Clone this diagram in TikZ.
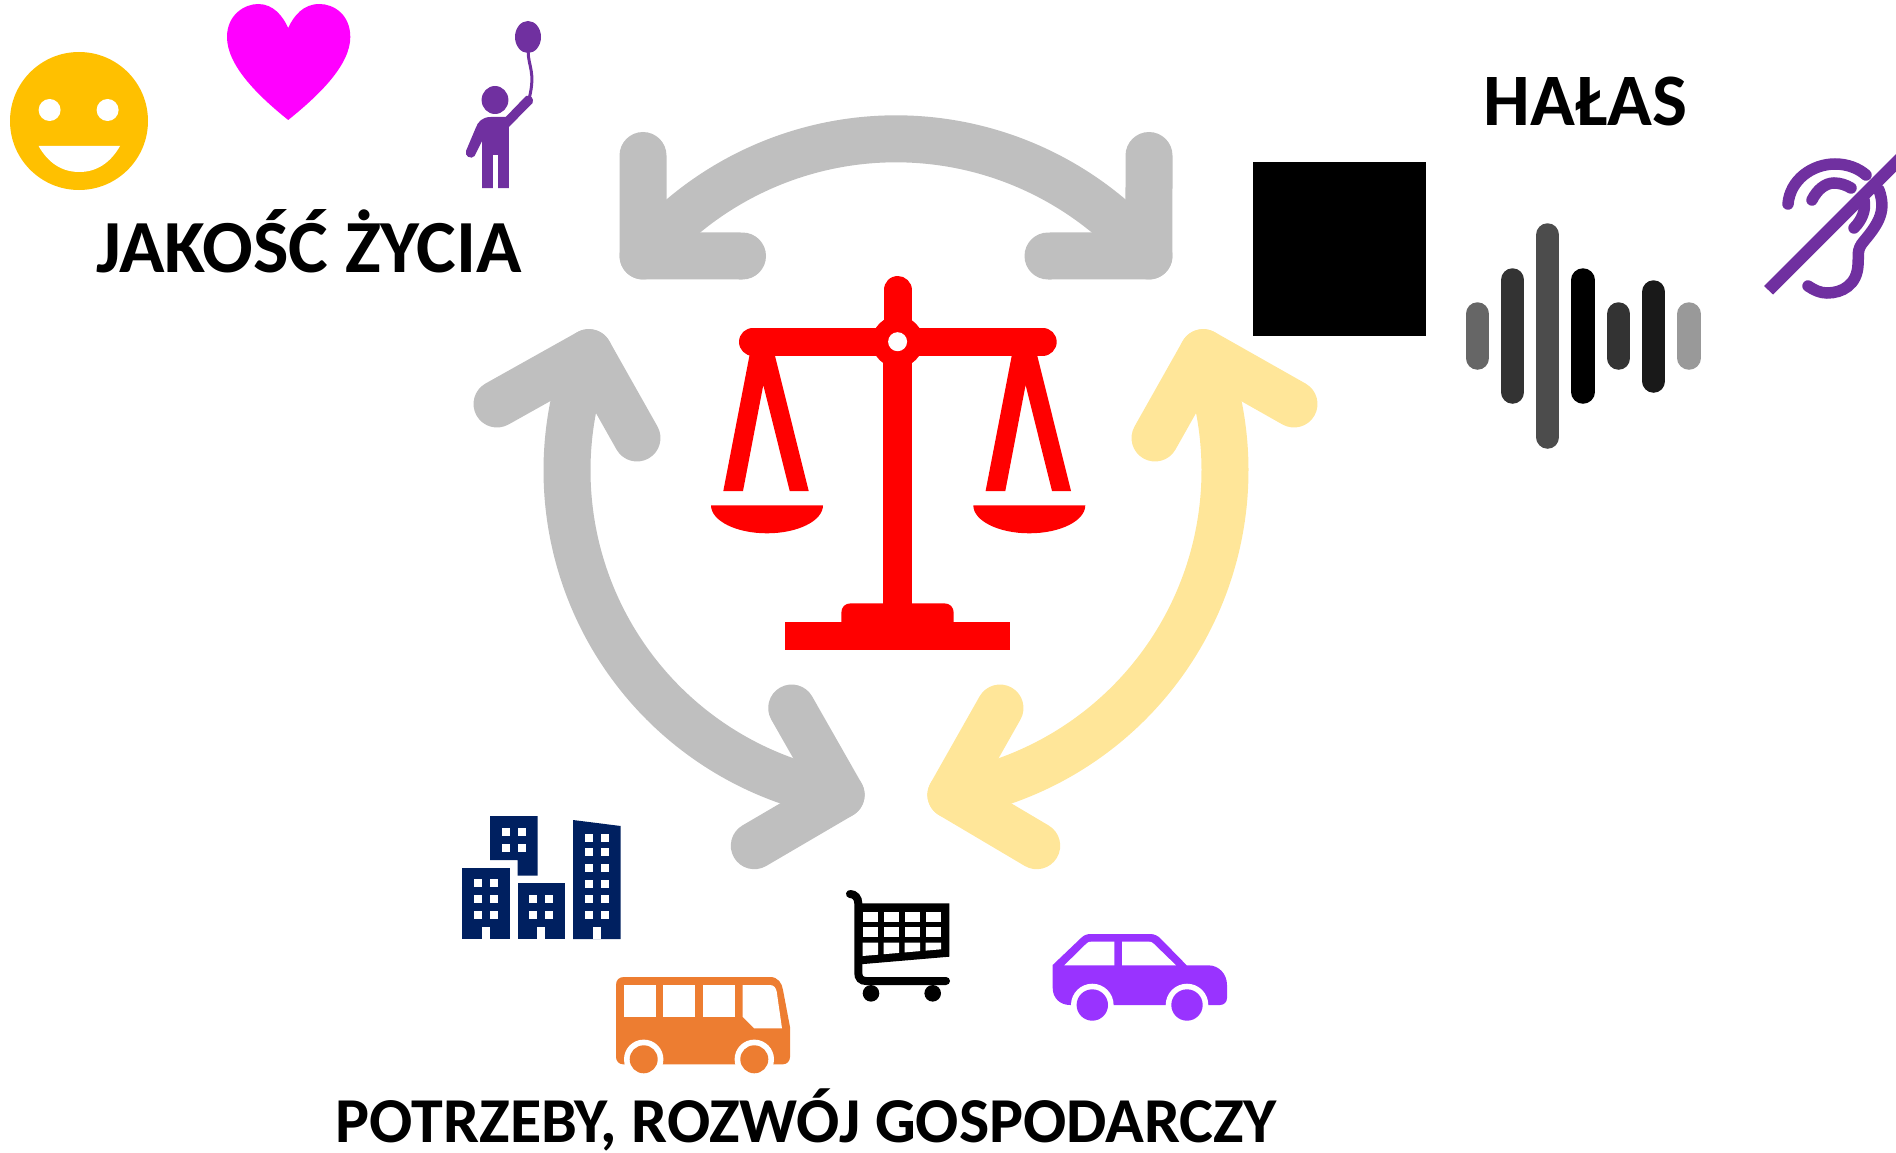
\documentclass[tikz,border=0pt]{standalone}
\usepackage{fontspec}
\setmainfont{Carlito}

\definecolor{arrowgray}{HTML}{BFBFBF}
\definecolor{arrowyellow}{HTML}{FFE699}
\definecolor{smile}{HTML}{FFC000}
\definecolor{heartpink}{HTML}{FF00FF}
\definecolor{plum}{HTML}{7030A0}
\definecolor{navy}{HTML}{002060}
\definecolor{busorange}{HTML}{ED7D31}
\definecolor{carviolet}{HTML}{9933FF}

\begin{document}
\begin{tikzpicture}[
  x=1pt, y=-1pt,
  cycle/.style={line width=47pt,line cap=round,line join=round}, % thick open arrows
  title/.style={font=\fontsize{75}{80}\selectfont\bfseries,inner sep=0pt,anchor=base},
  bar/.style={line width=23.5pt,line cap=round},
  window/.style={fill=white,draw=none},
  earline/.style={plum,line width=11.5pt,line cap=round}
]
  \useasboundingbox (0,0) rectangle (1896,1153);

  \coordinate (ctr) at (896,470.5);
  \coordinate (tl) at ([shift={(220.3:331.7)}]ctr);
  \coordinate (tr) at ([shift={(319.7:331.7)}]ctr);
  \coordinate (lu) at ([shift={(201:329)}]ctr);
  \coordinate (ld) at ([shift={(99.6:329)}]ctr);
  \coordinate (ru) at ([shift={(339:329)}]ctr);
  \coordinate (rd) at ([shift={(80.4:329)}]ctr);

  % arrows
  \draw[cycle,arrowgray] (tl) arc[start angle=220.3,end angle=319.7,radius=331.7];
  \draw[cycle,arrowgray] (643,155.5) -- (tl) -- (742.5,256);
  \draw[cycle,arrowgray] (1149,155.5) -- (tr) -- (1048,256);
  \draw[cycle,arrowgray] (lu) arc[start angle=201,end angle=99.6,radius=329];
  \draw[cycle,arrowgray] (497,404) -- (lu) -- (637,438);
  \draw[cycle,arrowgray] (791.7,708) -- (ld) -- (754.3,845.7);
  \draw[cycle,arrowyellow] (ru) arc[start angle=339,end angle=440.4,radius=329];
  \draw[cycle,arrowyellow] (1294,404) -- (ru) -- (1155,438);
  \draw[cycle,arrowyellow] (1000,708) -- (rd) -- (1036.7,845.7);

  \node[title] (life) at (309,272) {JAKOŚĆ ŻYCIA};
  \node[title,font=\fontsize{74}{80}\selectfont\bfseries] (noise) at (1585.5,126) {HAŁAS};
  \node[title,font=\fontsize{64}{70}\selectfont\bfseries] (needs) at (806.5,1142) {POTRZEBY, ROZWÓJ GOSPODARCZY};

  % smiley
  \fill[smile] (79,121) circle[radius=69];
  \fill[white] (49.6,110) circle[radius=11];
  \fill[white] (107.6,110) circle[radius=11];
  \fill[white] (38.6,146) -- (120,146) .. controls (110.4,163) and (96.4,172) .. (79.3,172) .. controls (62,172) and (48.2,163) .. (38.6,146) -- cycle;

  % heart
  \fill[heartpink] (288.2,120) .. controls (257,95) and (227,65) .. (227,37)
    .. controls (227,15) and (244.3,4) .. (258.2,4) .. controls (273.2,4) and (282.9,16) .. (288.2,28)
    .. controls (293.6,16) and (303.2,4) .. (319.3,4) .. controls (334.3,4) and (350.3,15) .. (350.3,37)
    .. controls (350.3,65) and (319.3,95) .. (288.2,120) -- cycle;

  % person with balloon
  \fill[plum] (495,100) ellipse[x radius=13.4,y radius=14];
  \fill[plum] (528,37) ellipse[x radius=13,y radius=16];
  \draw[plum,line width=3pt] (528.2,52) .. controls (528.2,66) and (535.7,72) .. (529.3,98);
  \fill[plum] (482.1,188) -- (482.1,141) -- (474.6,156) .. controls (471.4,160) and (463.9,156) .. (466,151)
    -- (475.7,128) .. controls (477.8,122) and (482.1,117) .. (490.7,117) -- (505.7,117) -- (526,96)
    .. controls (530.4,94) and (534.6,99) .. (532.5,103) -- (508.9,127) -- (508.9,188) -- (498.2,188)
    -- (498.2,155) -- (492.9,155) -- (492.9,188) -- cycle;

  % sound bars
  \draw[bar,black!60] (1477.5,314) -- (1477.5,358);
  \draw[bar,black!80] (1512.7,280) -- (1512.7,392);
  \draw[bar,black!70] (1547.7,235) -- (1547.7,437);
  \draw[bar,black] (1583,280) -- (1583,392);
  \draw[bar,black!80] (1618.7,314) -- (1618.7,358);
  \draw[bar,black!90] (1653.7,292) -- (1653.7,381);
  \draw[bar,black!40] (1689,314) -- (1689,358);

  % crossed ear
  \draw[earline] (1788,204) .. controls (1790,180) and (1812,164) .. (1835,164) .. controls (1847,164) and (1858,168) .. (1866,175);
  \draw[earline] (1812,200) .. controls (1817,190) and (1825,183) .. (1834,183) .. controls (1840,183) and (1846,185) .. (1851,188);
  \draw[earline] (1864,200) .. controls (1866,210) and (1862,220) .. (1854,228);
  \draw[earline] (1879,190) .. controls (1886,210) and (1880,222) .. (1864,241) .. controls (1856,250) and (1859,256) .. (1858,265)
    .. controls (1857,285) and (1842,293) .. (1827,293) .. controls (1820,293) and (1814,290) .. (1808,286);
  \fill[plum] (1764,286) -- (1773,294.5) -- (1896,171.5) -- (1896,154) -- cycle;

  % scales
  \fill[red] (883.3,342) rectangle (911.7,610);
  \draw[red,line width=28pt,line cap=round] (897.5,290) -- (897.5,341.7);
  \draw[red,line width=28pt,line cap=round] (753,341.7) -- (1042.7,341.7);
  \fill[red] (897.6,341.7) circle[radius=25.7];
  \fill[white] (897.6,341.7) circle[radius=9.5];
  \foreach \dx in {0,262.3} {
    \fill[red,shift={(\dx,0)}] (751.5,345) -- (723.3,491) -- (743,491) -- (763.3,385) -- (789.7,491) -- (808.7,491) -- (772.3,345) -- cycle;
    \fill[red,shift={(\dx,0)}] (711,505.3) arc[start angle=180,end angle=0,x radius=56,y radius=28] -- cycle;
  }
  \fill[red] (841.3,625) -- (841.3,613) .. controls (841.3,607) and (845,603.3) .. (851,603.3) -- (944,603.3)
    .. controls (950,603.3) and (953.7,607) .. (953.7,613) -- (953.7,625) -- cycle;
  \fill[red] (785.3,622.3) rectangle (1010,650.3);

  % black square
  \fill[black] (1253,162) rectangle (1426,336);

  % buildings
  \fill[navy] (462.3,867.7) rectangle (509.7,939);
  \fill[navy] (517.7,883.3) rectangle (565,939);
  \fill[navy] (490,816) -- (537.7,816) -- (537.7,875.7) -- (517.7,875.7) -- (517.7,860) -- (490,860) -- cycle;
  \fill[navy] (573,820) -- (620.7,826) -- (620.7,939) -- (573,939) -- cycle;
  \foreach \x/\y in {474/879.3,490/879.3,474/895.3,490/895.3,474/911.3,490/911.3,
    529.3/895.3,545.3/895.3,529.3/911.3,545.3/911.3,502/828,518/828,502/844,518/844,
    584.7/834,600.7/834,584.7/848,600.7/848,584.7/863.7,600.7/863.7,584.7/879.7,600.7/879.7,
    584.7/895.3,600.7/895.3,584.7/911.3,600.7/911.3}
    \fill[window] (\x,\y) rectangle ++(8,8);
  \foreach \x in {482.3,537.3,592.7}
    \fill[window] (\x,927) rectangle ++(8,12);

  % bus
  \fill[busorange] (616,985) .. controls (616,980) and (619,977) .. (624,977) -- (770,977)
    .. controls (778,977) and (782,983) .. (783,990) -- (790,1027) -- (790,1057)
    .. controls (790,1061) and (787,1064.3) .. (783,1064.3) -- (623,1064.3)
    .. controls (619,1064.3) and (616,1061) .. (616,1057) -- cycle;
  \fill[window] (624,985) rectangle (655.7,1016.7);
  \fill[window] (663.3,985) rectangle (695,1016.7);
  \fill[window] (703,985) rectangle (734.7,1016.7);
  \fill[window] (742.7,985) -- (770,985) .. controls (774,985) and (776,988) .. (776.7,991.7) -- (782,1028.3) -- (754.3,1028.3) -- (742.7,1016.7) -- cycle;
  \foreach \x in {643.7,754.3} {
    \fill[white] (\x,1059.3) circle[radius=19.7];
    \fill[busorange] (\x,1059.3) circle[radius=14];
  }

  % cart
  \fill[black] (858,903.3) -- (949.3,903.3) -- (949.3,956.7) -- (858,964.5) -- cycle;
  \draw[black,line width=8pt,line cap=round] (850,894) .. controls (855,894) and (858.3,898) .. (858.3,903.3) -- (858.3,973)
    .. controls (858.3,978) and (861,981) .. (866,981) -- (946,981);
  \foreach \x in {862.7,883.7,904.7,925.7} {
    \fill[window] (\x,912) rectangle ++(15.3,9.7);
    \fill[window] (\x,927.3) rectangle ++(15.3,10);
    \pgfmathsetmacro{\ya}{956-(\x-862.7)*0.0855}
    \pgfmathsetmacro{\yb}{956-(\x+15.3-862.7)*0.0855}
    \fill[window] (\x,942.7) -- ++(15.3,0) -- (\x+15.3,\yb) -- (\x,\ya) -- cycle;
  }
  \fill[black] (871,993.3) circle[radius=8.3];
  \fill[black] (932.7,993.3) circle[radius=8.3];

  % car
  \fill[carviolet] (1052.7,965) -- (1081,938) .. controls (1084,935) and (1087,934) .. (1091,934) -- (1150,934)
    .. controls (1155,934) and (1158,936) .. (1161,939) -- (1186.7,965.3) -- (1208.3,965.3)
    .. controls (1219,965.3) and (1227,974) .. (1227,985) -- (1227,998) .. controls (1227,1002) and (1224,1005) .. (1220,1005)
    -- (1070,1005) .. controls (1060,1005) and (1052.7,998) .. (1052.7,988) -- cycle;
  \fill[window] (1064.3,965.3) -- (1086,944) .. controls (1088,942) and (1089,941.7) .. (1091,941.7) -- (1114.3,941.7) -- (1114.3,965.3) -- cycle;
  \fill[window] (1122,941.7) -- (1149,941.7) .. controls (1151,941.7) and (1152,942) .. (1154,944) -- (1176,965.3) -- (1122,965.3) -- cycle;
  \foreach \x in {1092.3,1187} {
    \fill[white] (\x,1005) circle[radius=21.3];
    \fill[carviolet] (\x,1005) circle[radius=15.7];
  }
\end{tikzpicture}
\end{document}
